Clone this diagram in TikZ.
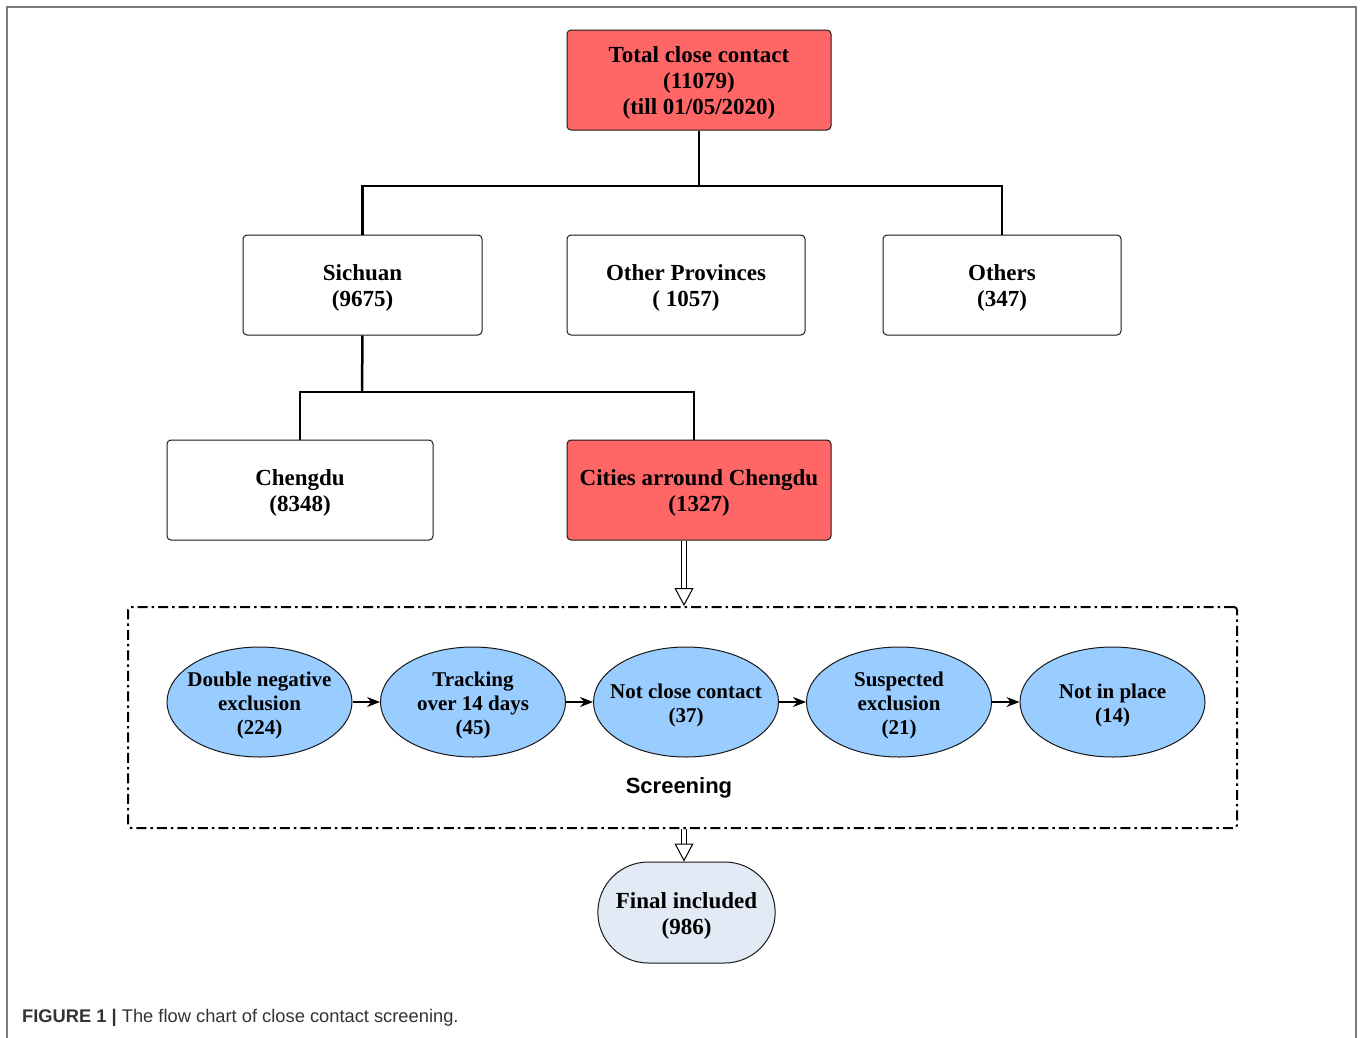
\documentclass[tikz,border=0pt]{standalone}
\usepackage{fontspec}
\setmainfont{Liberation Serif}
\setsansfont{Liberation Sans}
\usetikzlibrary{arrows.meta,shapes.geometric,shapes.misc}
\definecolor{redfill}{HTML}{FF6666}
\definecolor{bluefill}{HTML}{99CCFF}
\definecolor{finalfill}{HTML}{E2EAF6}
\definecolor{frame}{HTML}{7A7A7A}
\definecolor{captext}{HTML}{333333}
\tikzset{
  box/.style={draw=black!90, line width=1pt, rounded corners=4pt, minimum width=238pt, minimum height=100pt},
  redbox/.style={box, fill=redfill},
  boxtext/.style={align=center, inner sep=0pt, yshift=-3pt, font=\bfseries\fontsize{23}{26}\selectfont},
  oval/.style={ellipse, draw=black!90, line width=1pt, fill=bluefill, minimum width=185pt, minimum height=110pt, inner sep=0pt},
  ovaltext/.style={align=center, inner sep=0pt, yshift=-3pt, font=\bfseries\fontsize{21}{24}\selectfont},
  link/.style={line width=2.5pt},
  flow/.style={line width=1.2pt, -{Stealth[length=13pt,width=10pt]}},
  shaft/.style={line width=1pt},
  dbltip/.style={line width=1pt, -{Triangle[open,fill=white,length=18pt,width=19pt]}},
}
\begin{document}
\begin{tikzpicture}[x=1pt,y=-1pt]
\useasboundingbox (0,0) rectangle (1363,1037);
% outer frame
\draw[frame, line width=2pt] (7,1040) -- (7,7) -- (1356,7) -- (1356,1040);

% nodes
\node[redbox, minimum width=264pt, label={[boxtext]center:{Total close contact\\(11079)\\(till 01/05/2020)}}] (total) at (699,80) {};
\node[box, minimum width=239pt, label={[boxtext]center:{Sichuan\\(9675)}}] (sichuan) at (362.5,285) {};
\node[box, label={[boxtext]center:{Other Provinces\\( 1057)}}] (other) at (686,285) {};
\node[box, label={[boxtext]center:{Others\\(347)}}] (others) at (1002,285) {};
\node[box, minimum width=266pt, label={[boxtext]center:{Chengdu\\(8348)}}] (chengdu) at (300,490) {};
\node[redbox, minimum width=264pt, label={[boxtext]center:{Cities arround Chengdu\\(1327)}}] (cities) at (699,490) {};

% screening frame
\node[draw, line width=2pt, dash pattern=on 10pt off 4pt on 2.5pt off 4pt, rounded corners=3pt, minimum width=1109pt, minimum height=221pt] (scr) at (682.5,717.5) {};
\node[font=\sffamily\bfseries\fontsize{22}{26}\selectfont] (scrlabel) at (679,788) {Screening};

\node[oval, label={[ovaltext]center:{Double negative\\exclusion\\(224)}}] (e1) at (259.5,702) {};
\node[oval, label={[ovaltext]center:{Tracking\\over 14 days\\(45)}}] (e2) at (473,702) {};
\node[oval, label={[ovaltext]center:{Not close contact\\(37)}}] (e3) at (686,702) {};
\node[oval, label={[ovaltext]center:{Suspected\\exclusion\\(21)}}] (e4) at (899,702) {};
\node[oval, label={[ovaltext]center:{Not in place\\(14)}}] (e5) at (1112.5,702) {};

\node[rounded rectangle, draw=black!90, line width=1pt, fill=finalfill, minimum width=184pt, minimum height=101pt, label={[boxtext]center:{Final included\\(986)}}] (final) at (686.5,912.5) {};

% tree connectors
\coordinate (j1) at (699,186);
\coordinate (j2) at (362,392);
\draw[link] (total.south) -- (j1);
\draw[link] (sichuan.north) |- (j1) -| (others.north);
\draw[link] (sichuan.south) -- (j2);
\draw[link] (chengdu.north) |- (j2) -| (cities.north -| 694,0);

% flow arrows
\draw[flow] (e1) -- (e2);
\draw[flow] (e2) -- (e3);
\draw[flow] (e3) -- (e4);
\draw[flow] (e4) -- (e5);

% double arrows
\coordinate (ax) at (684,0);
\draw[shaft, shorten >=16pt] ([xshift=-2.5pt]cities.south -| ax) -- ([xshift=-2.5pt]scr.north -| ax);
\draw[shaft, shorten >=16pt] ([xshift=2.5pt]cities.south -| ax) -- ([xshift=2.5pt]scr.north -| ax);
\draw[dbltip, shorten <=47pt] (cities.south -| ax) -- (scr.north -| ax);
\draw[shaft, shorten >=16pt] ([xshift=-2.5pt]scr.south -| ax) -- ([xshift=-2.5pt]final.north -| ax);
\draw[shaft, shorten >=16pt] ([xshift=2.5pt]scr.south -| ax) -- ([xshift=2.5pt]final.north -| ax);
\draw[dbltip, shorten <=16pt] (scr.south -| ax) -- (final.north -| ax);

% caption
\node[anchor=base west, inner sep=0pt, text=captext, font=\sffamily\fontsize{18.3}{20}\selectfont] (cap) at (22,1022) {\textbf{FIGURE 1 |} The flow chart of close contact screening.};
\end{tikzpicture}
\end{document}
